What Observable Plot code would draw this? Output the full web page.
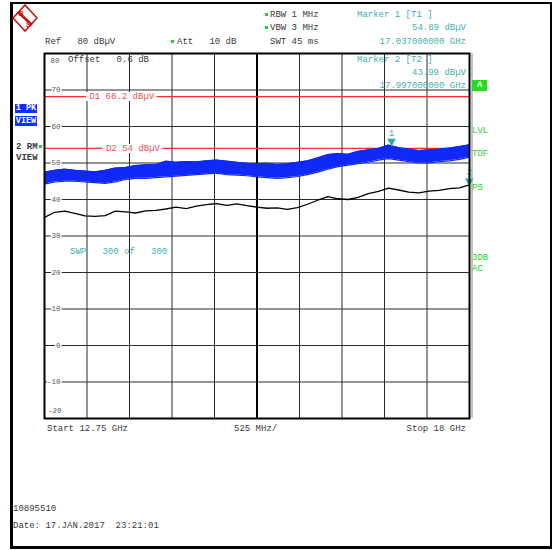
<!DOCTYPE html>
<html>
<head>
<meta charset="utf-8">
<script src="https://cdn.jsdelivr.net/npm/d3@7"></script>
<script src="https://cdn.jsdelivr.net/npm/@observablehq/plot@0.6"></script>
<style>
  body { margin: 0; background: #fff; }
  #wrap { position: relative; width: 555px; height: 550px; overflow: hidden; background: #fff; }
  #chart { position: absolute; left: 0; top: 0; }
  .t { position: absolute; font-family: "Liberation Mono", "DejaVu Sans Mono", monospace; font-size: 9px; line-height: 10px; white-space: pre; color: #3a3a3a; }
  .teal { color: #3fb0b0; }
  .grn { color: #22d822; }
  .r { text-align: right; }
  .dot { position: absolute; width: 3px; height: 3px; background: #22d822; }
  .box { position: absolute; background: #1030ff; color: #fff; font-family: "Liberation Mono", monospace; font-size: 8.5px; line-height: 10px; text-align: center; font-weight: bold; }
</style>
</head>
<body>
<div id="wrap">
  <div id="chart"></div>
  <div style="position:absolute;left:10px;top:2px;width:537px;height:542px;border-left:3px solid #000;border-bottom:3px solid #000;border-top:2px solid #000;border-right:2px solid #000;"></div>
  <svg style="position:absolute;left:12px;top:4px" width="26" height="28" viewBox="0 0 26 28">
    <path d="M13 1 L25 14 L13 27 L1 14 Z" fill="#fff" stroke="#cc1010" stroke-width="1.6"/>
    <line x1="6" y1="8" x2="20" y2="21" stroke="#cc1010" stroke-width="2.5"/>
    <text x="6.5" y="12" font-family="Liberation Sans, sans-serif" font-size="7" font-weight="bold" fill="#cc1010">R</text>
    <text x="14" y="23" font-family="Liberation Sans, sans-serif" font-size="7" font-weight="bold" fill="#cc1010">S</text>
  </svg>
  <div id="overlay"></div>
</div>
<script>
// ---- data ----
const fStart = 12.75;   // GHz
const fStop = 18;       // GHz
const yTicks = [80, 70, 60, 50, 40, 30, 20, 10, 0, -10, -20];
const xGrid = [12.75, 13.275, 13.8, 14.325, 14.85, 15.375, 15.9, 16.425, 16.95, 17.475, 18];
const centerFreq = [15.375];
// trace 2 (RMS, black) dBµV, evenly spaced sweep points
const rmsDb = [35.1, 36.5, 36.8, 36.2, 35.5, 35.4, 35.6, 36.8, 36.6, 36.3, 36.9, 37.0, 37.4, 37.9, 37.5,
  38.2, 38.6, 38.9, 38.4, 38.8, 38.3, 37.9, 37.6, 37.7, 37.3, 37.8, 38.7, 39.8, 40.8, 40.2, 40.0,
  40.6, 41.6, 42.2, 43.1, 42.6, 42.0, 41.8, 42.3, 42.5, 43.0, 43.2, 44.0];
// trace 1 (peak, blue) envelope, dBµV
const pkTop = [47.5, 48.0, 48.3, 48.0, 47.8, 47.6, 48.0, 48.6, 48.8, 49.3, 49.5, 49.6, 50.5, 50.2, 50.4,
  50.3, 50.6, 50.8, 50.5, 50.2, 49.9, 49.8, 49.9, 49.6, 49.8, 50.2, 50.6, 51.4, 52.3, 52.6, 52.4,
  53.2, 53.6, 54.0, 54.9, 54.2, 53.8, 53.4, 53.6, 53.8, 54.1, 54.5, 55.0];
const pkBot = [44.2, 44.8, 45.0, 45.0, 44.8, 44.6, 44.4, 44.8, 45.5, 45.8, 45.8, 46.0, 46.2, 46.4, 46.6,
  46.8, 47.0, 47.2, 46.8, 46.7, 46.5, 46.2, 46.0, 45.8, 46.0, 46.3, 46.8, 47.5, 48.3, 49.0, 49.4,
  49.8, 50.2, 50.8, 51.2, 50.8, 50.4, 50.0, 50.0, 50.4, 50.6, 51.0, 51.6];
const displayLines = [{name: "D1", level: 68.2, label: "D1 68.2 dBµV", at: 13.705},
                      {name: "D2", level: 54, label: "D2 54 dBµV", at: 13.843}];
const markers = [{id: "1", f: 17.037, level: 54.89}, {id: "2", f: 17.997, level: 43.99}];

// ---- table ----
const n = rmsDb.length;
const rows = rmsDb.map((v, i) => ({
  f: fStart + i * (fStop - fStart) / (n - 1),
  rms: v, top: pkTop[i], bot: pkBot[i]
}));
// half-width of a display-line label gap, in GHz (label chars * char width)
const ghzPerPx = (fStop - fStart) / 425;
const halfGap = d => (d.label.length * 5.4 / 2 + 3) * ghzPerPx;

const mono = "Liberation Mono, DejaVu Sans Mono, monospace";
const blue = "#1028f8";
const teal = "#30a8a8";
const red = "#ff2a2a";
const midTicks = yTicks.slice(1, -1);

const chart = Plot.plot({
  width: 555,
  height: 550,
  marginLeft: 44,
  marginRight: 86,
  marginTop: 53,
  marginBottom: 132,
  style: {background: "transparent", fontFamily: mono, overflow: "visible"},
  x: {domain: [fStart, fStop], axis: null},
  y: {domain: [-20, 80], axis: null},
  marks: [
    Plot.ruleY(yTicks, {stroke: "#2a2a2a", strokeWidth: 1}),
    Plot.ruleX(xGrid, {stroke: "#2a2a2a", strokeWidth: 1}),
    Plot.ruleX(centerFreq, {stroke: "#000", strokeWidth: 2}),
    Plot.ruleX([fStop], {stroke: "#888", strokeWidth: 1, dx: 2.5}),
    Plot.text(midTicks, {x: fStart, y: d => d, text: d => String(d), textAnchor: "end", dx: 16,
      fontSize: 7.5, fill: "#555", stroke: "#fff", strokeWidth: 3}),
    Plot.text([yTicks[0]], {x: fStart, y: d => d, text: d => String(d), textAnchor: "end", dx: 15,
      dy: 7, fontSize: 7.5, fill: "#555"}),
    Plot.text([yTicks[yTicks.length - 1]], {x: fStart, y: d => d, text: d => String(d), textAnchor: "end",
      dx: 17, dy: -8, fontSize: 7.5, fill: "#555"}),
    Plot.ruleY(displayLines, {y: "level", stroke: red, strokeWidth: 1.2}),
    Plot.ruleY(displayLines, {y: "level", x1: d => d.at - halfGap(d), x2: d => d.at + halfGap(d),
      stroke: "#fff", strokeWidth: 9}),
    Plot.text(displayLines, {x: "at", y: "level", text: "label", fill: "#f05050", fontSize: 9}),
    Plot.areaY(rows, {x: "f", y1: "bot", y2: "top", fill: blue}),
    Plot.line(rows, {x: "f", y: "top", stroke: blue, strokeWidth: 1.2}),
    Plot.line(rows, {x: "f", y: "bot", stroke: blue, strokeWidth: 1.2}),
    Plot.line(rows, {x: "f", y: "rms", stroke: "#000", strokeWidth: 1.3}),
    Plot.dot(markers, {x: "f", y: "level", symbol: "triangle", rotate: 180, r: 3.2, fill: teal, dy: -4}),
    Plot.text(markers, {x: "f", y: "level", text: "id", fill: "#40b4b4", fontSize: 9, dy: -12.5}),
    Plot.frame({stroke: "#000", strokeWidth: 2})
  ]
});
document.getElementById("chart").append(chart);

// ---- annotation text ----
const labels = [
  {t: "Ref   80 dBµV", x: 45, y: 42},
  {t: "Att   10 dB", x: 177, y: 42},
  {t: "RBW 1 MHz", x: 270, y: 15},
  {t: "VBW 3 MHz", x: 270, y: 28},
  {t: "SWT 45 ms", x: 270, y: 42},
  {t: "Marker 1 [T1 ]", x: 357, y: 15, c: "teal"},
  {t: "54.89 dBµV", r: 466, y: 28, c: "teal"},
  {t: "17.037000000 GHz", r: 466, y: 42, c: "teal"},
  {t: "Marker 2 [T2 ]", x: 357, y: 60, c: "teal"},
  {t: "43.99 dBµV", r: 466, y: 73, c: "teal"},
  {t: "17.997000000 GHz", r: 466, y: 86, c: "teal"},
  {t: "Offset   0.6 dB", x: 68, y: 60},
  {t: "SWP   300 of   300", x: 70, y: 252, c: "teal"},
  {t: "2 RM", x: 16, y: 147, b: true},
  {t: "VIEW", x: 16, y: 158, b: true},
  {t: "LVL", x: 472, y: 131, c: "grn"},
  {t: "TDF", x: 472, y: 154, c: "grn"},
  {t: "PS", x: 472, y: 188, c: "grn"},
  {t: "3DB", x: 472, y: 258, c: "grn"},
  {t: "AC", x: 472, y: 269, c: "grn"},
  {t: "Start 12.75 GHz", x: 47, y: 429},
  {t: "525 MHz/", x: 234, y: 429},
  {t: "Stop 18 GHz", r: 466, y: 429},
  {t: "10895510", x: 13, y: 509},
  {t: "Date: 17.JAN.2017  23:21:01", x: 13, y: 526}
];
const ov = document.getElementById("overlay");
for (const l of labels) {
  const d = document.createElement("div");
  d.className = "t" + (l.c ? " " + l.c : "") + (l.r ? " r" : "");
  d.textContent = l.t;
  d.style.top = (l.y - 5) + "px";
  if (l.r) { d.style.right = (555 - l.r) + "px"; } else { d.style.left = l.x + "px"; }
  if (l.b) d.style.fontWeight = "bold";
  ov.append(d);
}
const dots = [[171, 40], [265, 13], [265, 26], [39, 145]];
for (const [x, y] of dots) {
  const d = document.createElement("div");
  d.className = "dot"; d.style.left = x + "px"; d.style.top = y + "px";
  ov.append(d);
}
const boxes = [{t: "1 PK", x: 15, y: 104, w: 22, h: 9, bg: "#1030ff"},
               {t: "VIEW", x: 15, y: 116, w: 22, h: 10, bg: "#1030ff"},
               {t: "A", x: 472, y: 80, w: 15, h: 11, bg: "#22dd22"}];
for (const b of boxes) {
  const d = document.createElement("div");
  d.className = "box"; d.textContent = b.t;
  Object.assign(d.style, {left: b.x + "px", top: b.y + "px", width: b.w + "px", height: b.h + "px",
    lineHeight: b.h + "px", background: b.bg});
  ov.append(d);
}
</script>
</body>
</html>
